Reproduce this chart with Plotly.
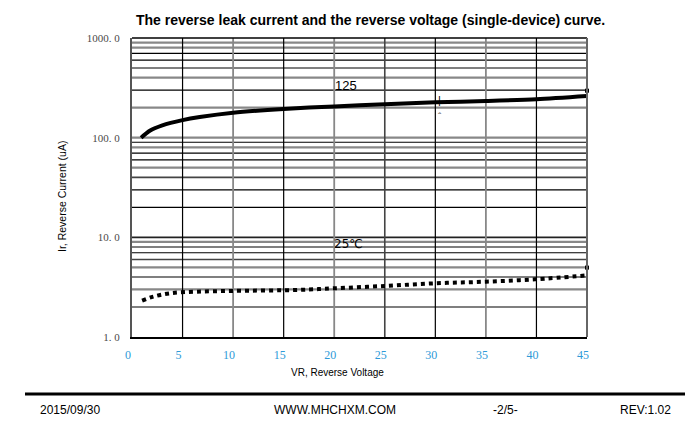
import math
import plotly.graph_objects as go

# ---- data ----
V_125 = [0.9, 1.8, 3, 5, 6.7, 10, 15, 20, 25, 30, 35, 40, 45]
I_125 = [100, 118, 133, 150, 161, 178, 194, 206, 216, 226, 233, 243, 262]
V_25 = [1.0, 2.1, 3.8, 6.4, 10, 16.6, 20, 25, 30, 35, 40, 45]
I_25 = [2.32, 2.54, 2.75, 2.85, 2.9, 2.97, 3.08, 3.25, 3.46, 3.59, 3.80, 4.15]
END_V = [45, 45]
END_I = [296, 4.97]

X_TICKS = [0, 5, 10, 15, 20, 25, 30, 35, 40, 45]
Y_TICKS = [1, 10, 100, 1000]
Y_TICK_TEXT = ["1. 0", "10. 0", "100. 0", "1000. 0"]

TITLE = "The reverse leak current and the reverse voltage (single-device) curve."
X_TITLE = "VR, Reverse Voltage"
Y_TITLE = "Ir, Reverse Current (uA)"
FOOTER = ["2015/09/30", "WWW.MHCHXM.COM", "-2/5-", "REV:1.02"]
FOOTER_X = [70, 335, 505, 645]

# grid line values and shades (styling of the printed grid)
GRID_Y = [2, 3, 4, 5, 6, 7, 8, 9,
          20, 30, 40, 50, 60, 70, 80, 90, 100,
          200, 300, 400, 500, 600, 700, 800, 900]
GRID_Y_SHADE = ["k", "g", "k", "g", "d", "k", "k", "g",
                "k", "k", "d", "g", "k", "k", "g", "k", "g",
                "g", "k", "g", "k", "k", "k", "g", "g"]
GRID_Y_EXTRA = [10]
GRID_X = [5, 10, 15, 20, 25, 30, 35, 40]
GRID_X_SHADE = ["k", "g", "k", "g", "d", "k", "g", "k"]
SHADES = {"k": ("#000000", 1.2), "g": ("#888888", 2.2), "d": ("#444444", 1.6)}

fig = go.Figure()

fig.add_trace(go.Scatter(x=V_125, y=I_125, mode="lines", line=dict(color="black", width=4, shape="spline", smoothing=0.8),
                         showlegend=False, hoverinfo="skip"))
fig.add_trace(go.Scatter(x=V_25, y=I_25, mode="lines", line=dict(color="black", width=4, dash="dot", shape="spline"),
                         showlegend=False, hoverinfo="skip"))
fig.add_trace(go.Scatter(x=END_V, y=END_I, mode="markers", marker=dict(symbol="square", size=4, color="black"),
                         showlegend=False, hoverinfo="skip", cliponaxis=False))

shapes = []
for v, s in zip(GRID_Y, GRID_Y_SHADE):
    c, w = SHADES[s]
    shapes.append(dict(type="line", xref="x", yref="y", x0=0, x1=45, y0=v, y1=v,
                       line=dict(color=c, width=w), layer="below"))
for v in GRID_Y_EXTRA:
    shapes.append(dict(type="line", xref="x", yref="y", x0=0, x1=45, y0=v, y1=v,
                       line=dict(color="#222222", width=1.8), layer="below"))
for v, s in zip(GRID_X, GRID_X_SHADE):
    c, w = SHADES[s]
    shapes.append(dict(type="line", xref="x", yref="y", x0=v, x1=v, y0=1, y1=1000,
                       line=dict(color=c, width=min(w, 1.8)), layer="below"))
# top and right borders
shapes.append(dict(type="line", xref="paper", yref="paper", x0=0, x1=1, y0=1, y1=1,
                   line=dict(color="black", width=1.5)))
shapes.append(dict(type="line", xref="paper", yref="paper", x0=1, x1=1, y0=0, y1=1,
                   line=dict(color="#666666", width=2)))
# footer rule
shapes.append(dict(type="line", xref="paper", yref="paper", x0=-107/455, x1=553/455,
                   y0=-57/299, y1=-57/299, line=dict(color="black", width=3)))

annotations = [
    dict(text="<b>" + TITLE + "</b>", xref="paper", yref="paper", x=(370 - 132) / 455, y=(337 - 20) / 299,
         showarrow=False, font=dict(family="Liberation Sans, Arial", size=14, color="black"),
         xanchor="center", yanchor="middle"),
    dict(text=X_TITLE, xref="paper", yref="paper", x=(337 - 132) / 455, y=(337 - 372) / 299,
         showarrow=False, font=dict(family="Liberation Sans, Arial", size=10, color="black"),
         xanchor="center", yanchor="middle"),
    dict(text=Y_TITLE, xref="paper", yref="paper", x=(62 - 132) / 455, y=(337 - 197) / 299,
         showarrow=False, textangle=-90, font=dict(family="Liberation Sans, Arial", size=10.5, color="black"),
         xanchor="center", yanchor="middle"),
    dict(text="125", xref="x", yref="y", x=21.2, y=math.log10(330), showarrow=False,
         font=dict(family="Liberation Sans, Arial", size=13, color="black")),
    dict(text="25℃", xref="x", yref="y", x=21.4, y=math.log10(8.6), showarrow=False,
         font=dict(family="DejaVu Sans, Liberation Sans", size=12, color="black")),
    dict(text="|", xref="x", yref="y", x=30.4, y=math.log10(240), showarrow=False,
         font=dict(family="Liberation Sans, Arial", size=11, color="black")),
    dict(text="ˆ", xref="x", yref="y", x=30.5, y=math.log10(160), showarrow=False,
         font=dict(family="Liberation Sans, Arial", size=10, color="#555555")),
]
for t, xp in zip(FOOTER, FOOTER_X):
    annotations.append(dict(text=t, xref="paper", yref="paper", x=(xp - 132) / 455, y=(337 - 410) / 299,
                            showarrow=False, font=dict(family="Liberation Sans, Arial", size=12, color="black"),
                            xanchor="center", yanchor="middle"))

fig.update_layout(
    width=692, height=423,
    margin=dict(l=124, r=113, t=30, b=94),
    paper_bgcolor="white", plot_bgcolor="white",
    shapes=shapes, annotations=annotations,
    xaxis=dict(range=[0, 45], tickvals=X_TICKS, showgrid=False, zeroline=False,
               showline=True, linecolor="black", linewidth=2,
               ticks="", ticklabelstandoff=6, ticklabelshift=-4,
               tickfont=dict(family="Liberation Serif, DejaVu Serif", size=12, color="#2e9ad8")),
    yaxis=dict(type="log", range=[0, 3], tickvals=Y_TICKS, ticktext=Y_TICK_TEXT, showgrid=False,
               zeroline=False, showline=True, linecolor="#555555", linewidth=2,
               ticks="", ticklabelstandoff=8,
               tickfont=dict(family="Liberation Serif, DejaVu Serif", size=11, color="#4a4a4a")),
)

fig.write_html("out.html")
